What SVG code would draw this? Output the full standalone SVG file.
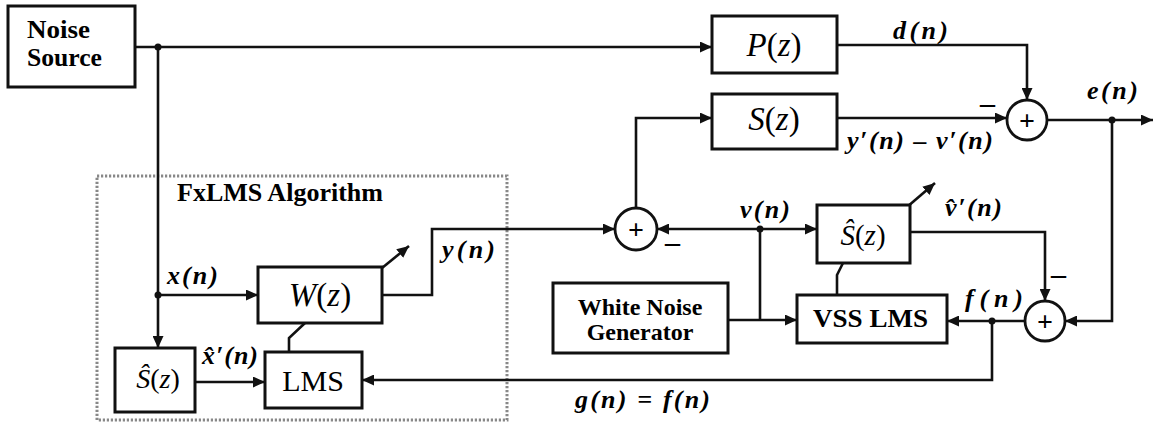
<svg xmlns="http://www.w3.org/2000/svg" width="1154" height="423" viewBox="0 0 1154 423">
<style>
.box{fill:#fff;stroke:#111;stroke-width:3}
.wire{fill:none;stroke:#111;stroke-width:2.6}
.arr{marker-end:url(#ah)}
.dot{fill:#111}
.sum{fill:#fff;stroke:#111;stroke-width:2.8}
.minus{stroke:#111;stroke-width:2.6}
.dotted{fill:none;stroke:#888;stroke-width:3;stroke-dasharray:2.2 1.8}
</style>
<defs>
<marker id="ah" markerUnits="userSpaceOnUse" markerWidth="13" markerHeight="11" refX="12" refY="5.5" orient="auto">
<path d="M0,0 L12,5.5 L0,11 z" fill="#111"/>
</marker>
</defs>
<rect width="1154" height="423" fill="#fff"/>

<rect class="dotted" x="97" y="176" width="410" height="244"/>
<text x="177" y="201" font-family="Liberation Serif, serif" font-weight="bold" font-size="25" textLength="206" lengthAdjust="spacingAndGlyphs">FxLMS Algorithm</text>

<g id="connectors">
<path class="wire arr" d="M135,47 H712"/>
<path class="wire arr" d="M158,47 V348"/>
<path class="wire arr" d="M158,295 H258"/>
<path class="wire arr" d="M382,295 H432 V229 H615"/>
<path class="wire arr" d="M195,382 H265"/>
<path class="wire" d="M305,323 L289,338 V352"/>
<path class="wire arr" d="M382,268 L409,246"/>
<path class="wire arr" d="M636,208 V118 H712"/>
<path class="wire arr" d="M837,118 H1007"/>
<path class="wire arr" d="M837,45 H1027 V100"/>
<path class="wire arr" d="M1047,120 H1153"/>
<path class="wire arr" d="M1112,120 V321 H1065"/>
<path class="wire arr" d="M910,232 H1045 V301"/>
<path class="wire arr" d="M1025,321 H947"/>
<path class="wire arr" d="M992,321 V380 H362"/>
<path class="wire arr" d="M760,229 H657"/>
<path class="wire arr" d="M760,229 H817"/>
<path class="wire arr" d="M728,320 H797"/>
<path class="wire" d="M760,320 V229"/>
<path class="wire" d="M843,263 L837,275 V295"/>
<path class="wire arr" d="M907,207 L935,183"/>
<circle class="dot" cx="158" cy="47" r="3.5"/>
<circle class="dot" cx="158" cy="295" r="3.5"/>
<circle class="dot" cx="760" cy="229" r="3.5"/>
<circle class="dot" cx="1112" cy="120" r="3.5"/>
<circle class="dot" cx="992" cy="321" r="3.5"/>
</g>

<g id="noise-source">
<rect class="box" x="8" y="6" width="127" height="81"/>
<text x="27" y="38" font-family="Liberation Serif, serif" font-weight="bold" font-size="25" textLength="63" lengthAdjust="spacingAndGlyphs">Noise</text>
<text x="27" y="66" font-family="Liberation Serif, serif" font-weight="bold" font-size="25" textLength="75" lengthAdjust="spacingAndGlyphs">Source</text>
</g>

<g id="P">
<rect class="box" x="712" y="16" width="125" height="57"/>
<text x="774" y="56" text-anchor="middle" font-family="Liberation Serif, serif" font-size="33"><tspan font-style="italic">P</tspan>(<tspan font-style="italic">z</tspan>)</text>
</g>

<g id="S">
<rect class="box" x="712" y="94" width="125" height="55"/>
<text x="774" y="130" text-anchor="middle" font-family="Liberation Serif, serif" font-size="33"><tspan font-style="italic">S</tspan>(<tspan font-style="italic">z</tspan>)</text>
</g>

<g id="W">
<rect class="box" x="258" y="267" width="124" height="56"/>
<text x="320" y="306" text-anchor="middle" font-family="Liberation Serif, serif" font-size="33"><tspan font-style="italic">W</tspan>(<tspan font-style="italic">z</tspan>)</text>
</g>

<g id="Shat-left">
<rect class="box" x="115" y="348" width="80" height="64"/>
<text x="158" y="388" text-anchor="middle" font-family="Liberation Serif, serif" font-size="28"><tspan font-style="italic">Ŝ</tspan>(<tspan font-style="italic">z</tspan>)</text>
</g>

<g id="LMS">
<rect class="box" x="265" y="352" width="97" height="56"/>
<text x="313" y="391" text-anchor="middle" font-family="Liberation Serif, serif" font-size="30">LMS</text>
</g>

<g id="Shat-right">
<rect class="box" x="817" y="205" width="93" height="58"/>
<text x="863" y="245" text-anchor="middle" font-family="Liberation Serif, serif" font-size="29"><tspan font-style="italic">Ŝ</tspan>(<tspan font-style="italic">z</tspan>)</text>
</g>

<g id="VSS-LMS">
<rect class="box" x="797" y="295" width="150" height="48"/>
<text x="813" y="327" font-family="Liberation Serif, serif" font-weight="bold" font-size="26" textLength="115" lengthAdjust="spacingAndGlyphs">VSS LMS</text>
</g>

<g id="white-noise">
<rect class="box" x="553" y="283" width="175" height="70"/>
<text x="640" y="315" text-anchor="middle" font-family="Liberation Serif, serif" font-weight="bold" font-size="24">White Noise</text>
<text x="640" y="340" text-anchor="middle" font-family="Liberation Serif, serif" font-weight="bold" font-size="24">Generator</text>
</g>

<g id="sum1">
<circle class="sum" cx="1027" cy="120" r="20"/>
<text x="1027" y="130" text-anchor="middle" font-family="Liberation Serif, serif" font-weight="bold" font-size="28">+</text>
</g>
<g id="sum2">
<circle class="sum" cx="1045" cy="321" r="20"/>
<text x="1045" y="331" text-anchor="middle" font-family="Liberation Serif, serif" font-weight="bold" font-size="28">+</text>
</g>
<g id="sum3">
<circle class="sum" cx="636" cy="229" r="21"/>
<text x="636" y="239" text-anchor="middle" font-family="Liberation Serif, serif" font-weight="bold" font-size="28">+</text>
</g>

<g id="labels" font-family="Liberation Serif, serif" font-weight="bold" font-style="italic" font-size="26">
<text x="893" y="39" textLength="55" lengthAdjust="spacing">d(n)</text>
<text x="1087" y="99" textLength="51" lengthAdjust="spacing">e(n)</text>
<text x="847" y="149" textLength="146" lengthAdjust="spacing">y′(n) – v′(n)</text>
<text x="740" y="218" textLength="50" lengthAdjust="spacing">v(n)</text>
<text x="945" y="216" textLength="57" lengthAdjust="spacing">v̂′(n)</text>
<text x="965" y="307" textLength="58" lengthAdjust="spacing">f(n)</text>
<text x="442" y="258" textLength="53" lengthAdjust="spacing">y(n)</text>
<text x="167" y="284" textLength="51" lengthAdjust="spacing">x(n)</text>
<text x="202" y="364" textLength="56" lengthAdjust="spacing">x̂′(n)</text>
<text x="575" y="408" textLength="135" lengthAdjust="spacing">g(n) = f(n)</text>
<text x="980" y="113" font-style="normal" font-size="30">–</text>
<text x="665" y="252" font-style="normal" font-size="30">–</text>
<text x="1051" y="284" font-style="normal" font-size="30">–</text>
</g>
</svg>
